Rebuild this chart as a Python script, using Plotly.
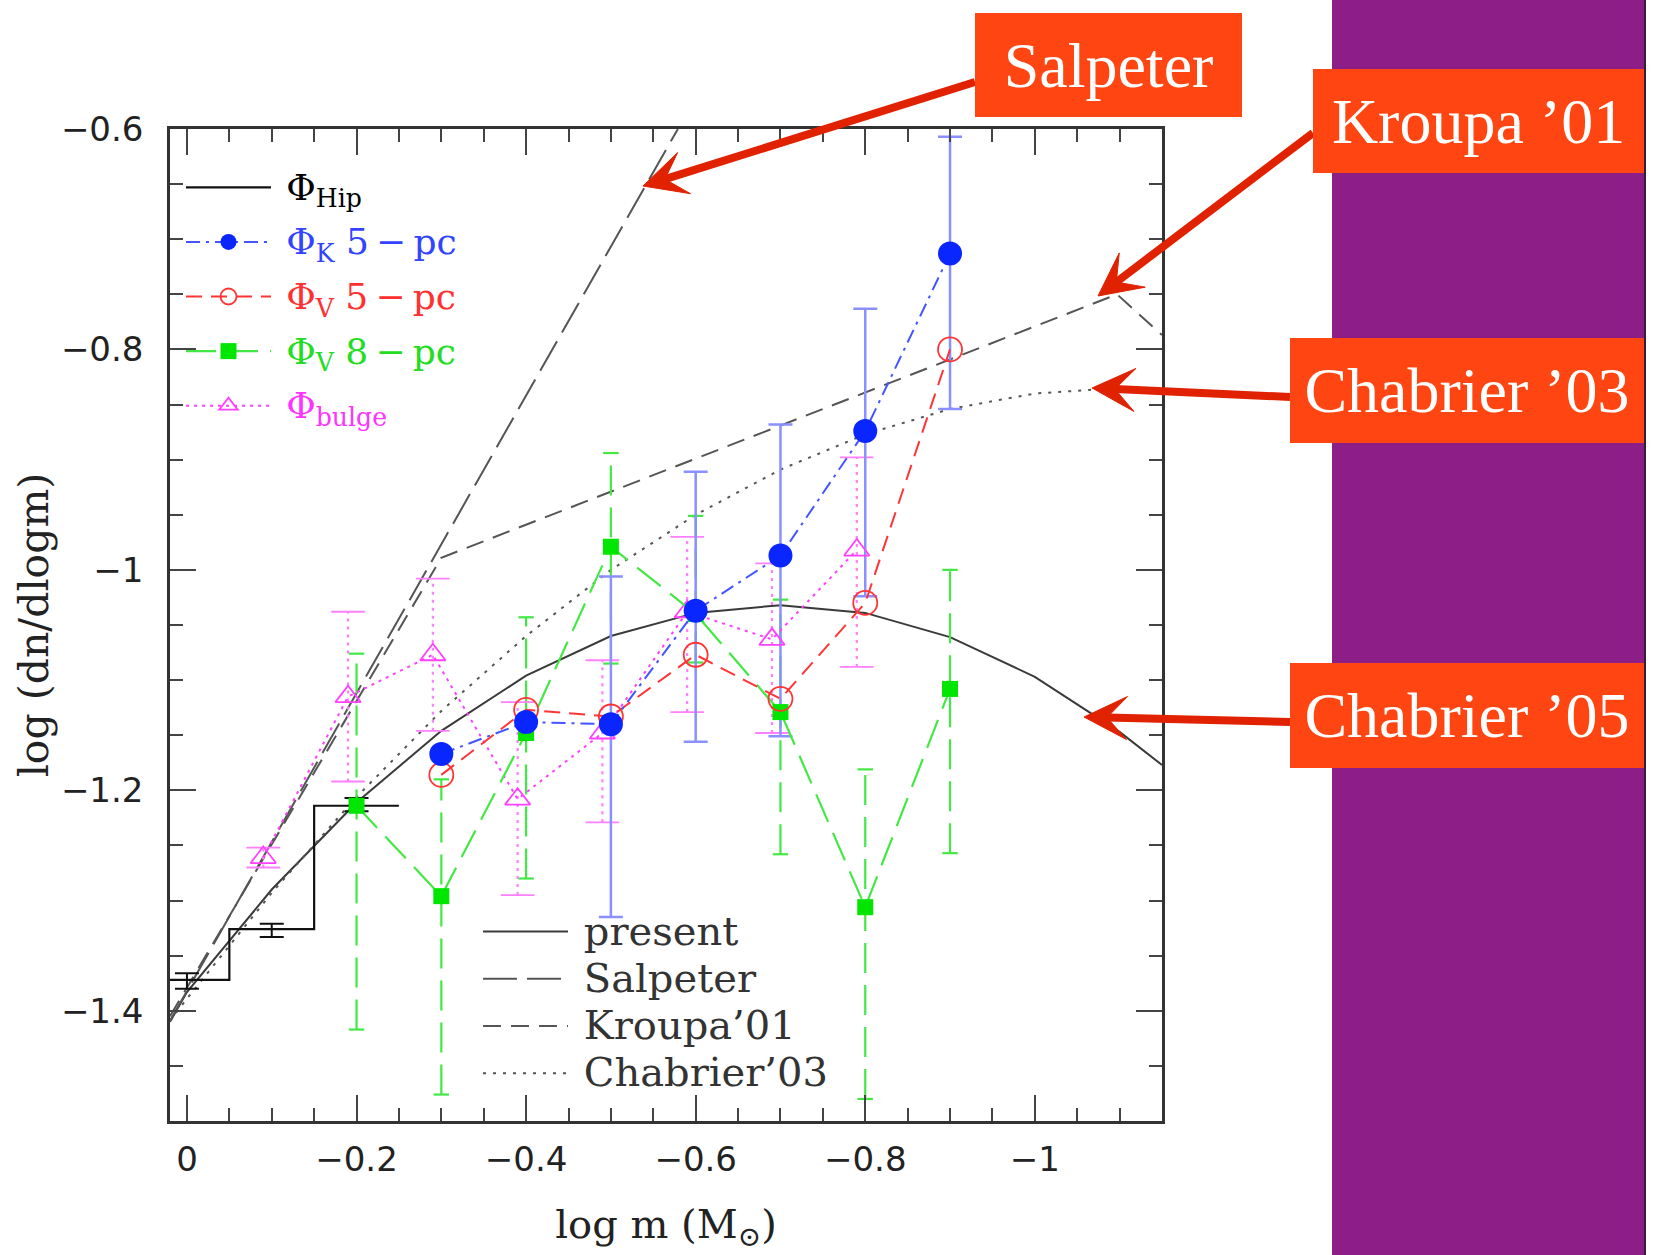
import math
import plotly.graph_objects as go

# ---------------- data ----------------
# Hipparcos histogram (bin edges and values) + error bars at bin centres
hip_edges = [0.05, -0.05, -0.15, -0.25]
hip_vals = [-1.372, -1.326, -1.214]
hip_centres = [0.0, -0.1, -0.2]
hip_err_y = [-1.373, -1.327, -1.213]
hip_err = [0.007, 0.006, 0.006]

# Phi_K 5-pc (blue)
k5_x = [-0.3, -0.4, -0.5, -0.6, -0.7, -0.8, -0.9]
k5_y = [-1.167, -1.138, -1.140, -1.037, -0.987, -0.874, -0.713]
k5_hi = [None, None, -1.006, -0.911, -0.868, -0.763, -0.607]
k5_lo = [None, None, -1.315, -1.156, -1.151, -1.024, -0.854]

# Phi_V 5-pc (red)
v5_x = [-0.3, -0.4, -0.5, -0.6, -0.7, -0.8, -0.9]
v5_y = [-1.186, -1.127, -1.133, -1.077, -1.117, -1.030, -0.800]

# Phi_V 8-pc (green)
v8_x = [-0.2, -0.3, -0.4, -0.5, -0.6, -0.7, -0.8, -0.9]
v8_y = [-1.214, -1.296, -1.148, -0.979, -1.040, -1.129, -1.306, -1.108]
v8_hi = [-1.076, -1.190, -1.043, -0.894, -0.951, -1.027, -1.181, -1.000]
v8_lo = [-1.417, -1.476, -1.280, -1.085, -1.084, -1.258, -1.480, -1.257]

# Phi_bulge (magenta)
bu_x = [-0.09, -0.19, -0.29, -0.39, -0.49, -0.59, -0.69, -0.79]
bu_y = [-1.261, -1.115, -1.077, -1.208, -1.148, -1.038, -1.063, -0.982]
bu_hi = [-1.252, -1.038, -1.008, -1.120, -1.082, -0.970, -0.994, -0.898]
bu_lo = [-1.270, -1.192, -1.146, -1.295, -1.229, -1.129, -1.148, -1.088]

# model curves
present_x = [0.02, 0.0, -0.1, -0.2, -0.3, -0.4, -0.5, -0.6, -0.7, -0.8, -0.9, -1.0, -1.1, -1.15]
present_y = [-1.410, -1.383, -1.290, -1.211, -1.146, -1.096, -1.060, -1.039, -1.032, -1.039,
             -1.061, -1.097, -1.147, -1.177]
salp_x = [0.02, -0.579]
salp_y = [-1.409, -0.600]
kroupa_x = [0.02, -0.3, -1.097, -1.15]
kroupa_y = [-1.405, -0.989, -0.750, -0.787]
chab03_x = [0.02, 0.0, -0.1, -0.2, -0.3, -0.4, -0.5, -0.6, -0.7, -0.8, -0.9, -1.0, -1.1, -1.15]
chab03_y = [-1.409, -1.389, -1.293, -1.206, -1.128, -1.060, -1.000, -0.950, -0.909, -0.877,
            -0.854, -0.840, -0.835, -0.836]

x_ticks = [0, -0.2, -0.4, -0.6, -0.8, -1]
x_ticktext = ["0", "\u22120.2", "\u22120.4", "\u22120.6", "\u22120.8", "\u22121"]
y_ticks = [-0.6, -0.8, -1.0, -1.2, -1.4]
y_ticktext = ["\u22120.6", "\u22120.8", "\u22121", "\u22121.2", "\u22121.4"]

labels = ["Salpeter", "Kroupa \u201901", "Chabrier \u201903", "Chabrier \u201905"]

# ---------------- layout helpers (pixel -> paper) ----------------
W, H = 1663, 1255
L, R, T, B = 170, 1162, 129, 1121


def px(X):
    return (X - L) / (R - L)


def py(Y):
    return (B - Y) / (B - T)


BLUE = "#0a26ff"
BLUE_L = "#4455ff"
BLUE_E = "#8a90ff"
RED = "#ff3535"
GREEN_L = "#44e844"
MAG = "#ff40ff"
MAG_L = "#ff80ff"
GREY = "#555555"


def leg1(txt, color):
    return ('\u00a0<span style="color:%s;font-size:36px">%s</span>' % (color, txt))


def leg2(txt):
    return '\u00a0<span style="font-size:40px">%s</span>' % txt


fig = go.Figure()

# model curves (legend 2)
fig.add_trace(go.Scatter(x=present_x, y=present_y, mode="lines", name=leg2("present"),
                         line=dict(color="#3a3a3a", width=2), legend="legend2", legendrank=1))
fig.add_trace(go.Scatter(x=salp_x, y=salp_y, mode="lines", name=leg2("Salpeter"),
                         line=dict(color=GREY, width=2, dash="34px,10px"), legend="legend2", legendrank=2))
fig.add_trace(go.Scatter(x=kroupa_x, y=kroupa_y, mode="lines", name=leg2("Kroupa\u201901"),
                         line=dict(color=GREY, width=2, dash="18px,10px"), legend="legend2", legendrank=3))
fig.add_trace(go.Scatter(x=chab03_x, y=chab03_y, mode="lines", name=leg2("Chabrier\u201903"),
                         line=dict(color=GREY, width=2, dash="3px,7px"), legend="legend2", legendrank=4))

# Hipparcos histogram
fig.add_trace(go.Scatter(x=hip_edges, y=hip_vals + [hip_vals[-1]], mode="lines", line_shape="hv",
                         name=leg1("\u03a6<sub>Hip</sub>", "#000000"),
                         line=dict(color="#111111", width=2.2), legend="legend", legendrank=1,
                         legendgroup="g1"))
fig.add_trace(go.Scatter(x=hip_centres, y=hip_err_y, mode="markers", marker=dict(opacity=0),
                         error_y=dict(type="data", array=hip_err, color="#111111", thickness=2, width=12),
                         showlegend=False, hoverinfo="skip"))

# green error bars (dashed)
gx, gy = [], []
for x, lo, hi in zip(v8_x, v8_lo, v8_hi):
    gx += [x, x, None]
    gy += [lo, hi, None]
fig.add_trace(go.Scatter(x=gx, y=gy, mode="lines", line=dict(color=GREEN_L, width=2.2, dash="30px,12px"),
                         showlegend=False, hoverinfo="skip"))
fig.add_trace(go.Scatter(x=v8_x + v8_x, y=v8_lo + v8_hi, mode="markers",
                         marker=dict(symbol="line-ew", size=11, line=dict(color=GREEN_L, width=2.2)),
                         showlegend=False, hoverinfo="skip"))

# magenta error bars (dotted)
mx, my = [], []
for x, lo, hi in zip(bu_x, bu_lo, bu_hi):
    mx += [x, x, None]
    my += [lo, hi, None]
fig.add_trace(go.Scatter(x=mx, y=my, mode="lines", line=dict(color=MAG_L, width=2.2, dash="3px,5px"),
                         showlegend=False, hoverinfo="skip"))
fig.add_trace(go.Scatter(x=bu_x + bu_x, y=bu_lo + bu_hi, mode="markers",
                         marker=dict(symbol="line-ew", size=24, line=dict(color=MAG_L, width=1.8)),
                         showlegend=False, hoverinfo="skip"))

# blue error bars (solid)
bx = [x for x, h in zip(k5_x, k5_hi) if h is not None]
byy = [y for y, h in zip(k5_y, k5_hi) if h is not None]
bplus = [h - y for y, h in zip(k5_y, k5_hi) if h is not None]
bminus = [y - lo for y, lo in zip(k5_y, k5_lo) if lo is not None]
fig.add_trace(go.Scatter(x=bx, y=byy, mode="markers", marker=dict(opacity=0),
                         error_y=dict(type="data", array=bplus, arrayminus=bminus, color=BLUE_E,
                                      thickness=2.5, width=12),
                         showlegend=False, hoverinfo="skip"))

# data series (legend 1)
fig.add_trace(go.Scatter(x=bu_x, y=bu_y, mode="lines+markers",
                         name=leg1("\u03a6<sub>bulge</sub>", "#ff33ff"),
                         line=dict(color=MAG, width=2, dash="3px,5px"),
                         marker=dict(symbol="triangle-up-open", size=22, color=MAG, line=dict(width=1.8)),
                         legend="legend", legendrank=5, legendgroup="g5"))
fig.add_trace(go.Scatter(x=v8_x, y=v8_y, mode="lines+markers",
                         name=leg1("\u03a6<sub>V</sub> 8\u2009\u2212\u2009pc", "#22dd22"),
                         line=dict(color=GREEN_L, width=2.2, dash="30px,12px"),
                         marker=dict(symbol="square", size=16, color="#00e600"),
                         legend="legend", legendrank=4, legendgroup="g4"))
fig.add_trace(go.Scatter(x=v5_x, y=v5_y, mode="lines+markers",
                         name=leg1("\u03a6<sub>V</sub> 5\u2009\u2212\u2009pc", "#ff3030"),
                         line=dict(color=RED, width=2, dash="16px,9px"),
                         marker=dict(symbol="circle-open", size=24, color=RED, line=dict(width=1.8)),
                         legend="legend", legendrank=3, legendgroup="g3"))
fig.add_trace(go.Scatter(x=k5_x, y=k5_y, mode="lines+markers",
                         name=leg1("\u03a6<sub>K</sub> 5\u2009\u2212\u2009pc", "#3344ff"),
                         line=dict(color=BLUE_L, width=2, dash="14px,6px,3px,6px"),
                         marker=dict(symbol="circle", size=24, color=BLUE),
                         legend="legend", legendrank=2, legendgroup="g2"))

axis_common = dict(
    showline=True, linecolor="#333333", linewidth=2.5, mirror="ticks",
    ticks="inside", ticklen=26, tickwidth=2, tickcolor="#444444",
    showgrid=False, zeroline=False,
    tickfont=dict(family="DejaVu Sans", size=34, color="#222222"),
)

fig.update_xaxes(range=[0.02, -1.15], tickmode="array", tickvals=x_ticks, ticktext=x_ticktext,
                 minor=dict(tickmode="linear", tick0=0, dtick=0.05, ticks="inside", ticklen=13,
                            tickwidth=2, tickcolor="#444444"),
                 title=dict(text="log m (M<sub>\u2299</sub>)", standoff=33,
                            font=dict(family="DejaVu Serif", size=40, color="#222222")),
                 ticklabelstandoff=6, **axis_common)
fig.update_yaxes(range=[-1.5, -0.6], tickmode="array", tickvals=y_ticks, ticktext=y_ticktext,
                 minor=dict(tickmode="linear", tick0=0, dtick=0.05, ticks="inside", ticklen=13,
                            tickwidth=2, tickcolor="#444444"),
                 title=dict(text="log (dn/dlogm)", standoff=0,
                            font=dict(family="DejaVu Serif", size=41, color="#222222")),
                 ticklabelstandoff=17, **axis_common)

annotations = []
# label boxes
boxes = [
    (labels[0], 1108.5, 65, 267, 104),
    (labels[1], 1478.5, 121, 331, 104),
    (labels[2], 1467, 390.5, 354, 105),
    (labels[3], 1467, 715.5, 354, 105),
]
for txt, cx, cy, bw, bh in boxes:
    annotations.append(dict(text=txt, xref="paper", yref="paper", x=px(cx), y=py(cy),
                            xanchor="center", yanchor="middle", showarrow=False,
                            width=bw, height=bh, bgcolor="#ff4512", borderpad=0, borderwidth=0,
                            font=dict(family="Liberation Serif", size=64, color="white")))

shapes = [
    dict(type="rect", xref="paper", yref="paper", x0=px(1332), x1=px(1644), y0=py(1255), y1=py(0),
         fillcolor="#8d1e88", line=dict(width=0), layer="below"),
    dict(type="line", xref="paper", yref="paper", x0=px(1645), x1=px(1645), y0=py(1255), y1=py(0),
         line=dict(color="#3a1a3a", width=2), layer="below"),
]

# pointer arrows from label boxes: (tipX, tipY, tailX, tailY) in pixels
ARROW = "#e02200"
arrows = [(643, 186, 975, 82), (1098, 296, 1313, 133), (1092, 388, 1290, 397), (1084, 717, 1290, 722)]
HEAD_L, HEAD_W, NOTCH = 43, 21.5, 23
for tx, ty, sx, sy in arrows:
    d = math.hypot(tx - sx, ty - sy)
    ux, uy = (tx - sx) / d, (ty - sy) / d
    nx, ny = -uy, ux
    bxp, byp = tx - ux * HEAD_L, ty - uy * HEAD_L
    ntx, nty = tx - ux * NOTCH, ty - uy * NOTCH
    shapes.append(dict(type="line", xref="paper", yref="paper", x0=px(sx), y0=py(sy),
                       x1=px(ntx), y1=py(nty), line=dict(color=ARROW, width=8), layer="above"))
    pts = [(tx, ty), (bxp + nx * HEAD_W, byp + ny * HEAD_W), (ntx, nty),
           (bxp - nx * HEAD_W, byp - ny * HEAD_W)]
    path = "M" + " L".join("%.5f,%.5f" % (px(a), py(b)) for a, b in pts) + " Z"
    shapes.append(dict(type="path", xref="paper", yref="paper", path=path, fillcolor=ARROW,
                       line=dict(color=ARROW, width=1), layer="above"))

fig.update_layout(
    width=W, height=H,
    margin=dict(l=L, r=W - R, t=T, b=H - B, autoexpand=False),
    paper_bgcolor="white", plot_bgcolor="white",
    font=dict(family="DejaVu Serif", color="#222222"),
    annotations=annotations, shapes=shapes,
    legend=dict(x=px(181), y=py(160), xanchor="left", yanchor="top", bgcolor="rgba(0,0,0,0)",
                font=dict(family="DejaVu Serif", size=32), itemwidth=85, traceorder="grouped",
                tracegroupgap=10, borderwidth=0, itemclick=False),
    legend2=dict(x=px(478), y=py(903), xanchor="left", yanchor="top", bgcolor="rgba(0,0,0,0)",
                 font=dict(family="DejaVu Serif", size=34, color="#333333"), itemwidth=85,
                 tracegroupgap=0, borderwidth=0),
    showlegend=True,
)

fig.write_html("out.html")
